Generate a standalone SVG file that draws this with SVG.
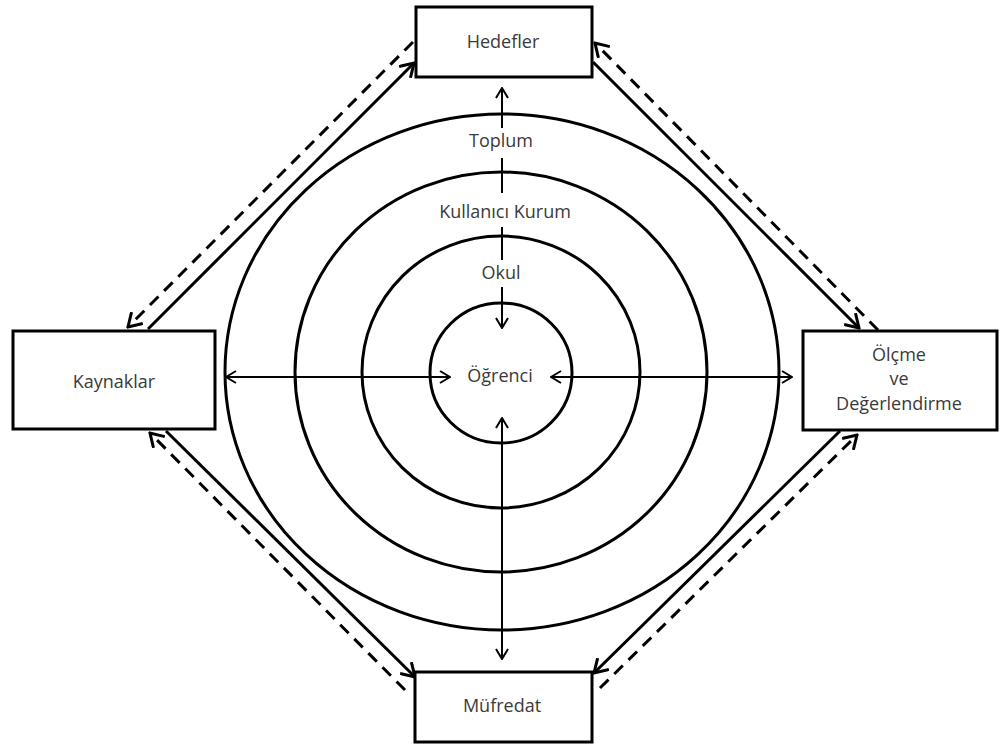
<svg xmlns="http://www.w3.org/2000/svg" width="1001" height="747" viewBox="0 0 1001 747">
<style>
.box{fill:#fff;stroke:#000;stroke-width:3}
.ring{fill:none;stroke:#000;stroke-width:3}
.lbl{font-family:"Open Sans","Noto Sans",sans-serif;font-size:18px;fill:#3a3a3a;text-anchor:middle}
.ax{stroke:#000;stroke-width:2;fill:none}
.sol{stroke:#000;stroke-width:3;fill:none}
.dsh{stroke:#000;stroke-width:3;fill:none;stroke-dasharray:12 8}
.bg{fill:#fff}
</style>
<defs>
<marker id="ah" markerUnits="userSpaceOnUse" viewBox="0 0 12 14" refX="11" refY="7" markerWidth="12" markerHeight="14" orient="auto-start-reverse">
<path d="M1,1 L11,7 L1,13" fill="none" stroke="#000" stroke-width="2"/>
</marker>
<marker id="ahb" markerUnits="userSpaceOnUse" viewBox="0 0 16 18" refX="14" refY="9" markerWidth="16" markerHeight="18" orient="auto">
<path d="M1,1 L14,9 L1,17" fill="none" stroke="#000" stroke-width="3"/>
</marker>
</defs>
<rect width="1001" height="747" fill="#fff"/>
<g id="rings">
<ellipse id="ring-ogrenci" class="ring" cx="501" cy="373" rx="71" ry="70"/>
<ellipse id="ring-okul" class="ring" cx="501" cy="372" rx="139" ry="136"/>
<ellipse id="ring-kurum" class="ring" cx="501" cy="372" rx="206" ry="200"/>
<ellipse id="ring-toplum" class="ring" cx="502" cy="372" rx="277" ry="258"/>
</g>
<g id="connectors">
<line class="ax" x1="502" y1="88" x2="502" y2="328" marker-start="url(#ah)" marker-end="url(#ah)"/>
<line class="ax" x1="502" y1="418" x2="502" y2="659" marker-start="url(#ah)" marker-end="url(#ah)"/>
<line class="ax" x1="226" y1="377" x2="450" y2="377" marker-start="url(#ah)" marker-end="url(#ah)"/>
<line class="ax" x1="551" y1="377" x2="792" y2="377" marker-start="url(#ah)" marker-end="url(#ah)"/>
<line class="sol" x1="148" y1="329" x2="414" y2="63" marker-end="url(#ahb)"/>
<line class="dsh" x1="413" y1="42" x2="128" y2="327" marker-end="url(#ahb)"/>
<line class="sol" x1="593" y1="62" x2="859" y2="328" marker-end="url(#ahb)"/>
<line class="dsh" x1="878" y1="330" x2="595" y2="43" marker-end="url(#ahb)"/>
<line class="sol" x1="840" y1="431" x2="594" y2="673" marker-end="url(#ahb)"/>
<line class="dsh" x1="600" y1="688" x2="857" y2="435" marker-end="url(#ahb)"/>
<line class="sol" x1="166" y1="431" x2="415" y2="677" marker-end="url(#ahb)"/>
<line class="dsh" x1="405" y1="690" x2="150" y2="433" marker-end="url(#ahb)"/>
</g>
<g id="label-toplum">
<rect class="bg" x="460" y="128" width="84" height="30"/>
<text class="lbl" x="501" y="147">Toplum</text>
</g>
<g id="label-kurum">
<rect class="bg" x="432" y="193" width="148" height="34"/>
<text class="lbl" x="505" y="218">Kullanıcı Kurum</text>
</g>
<g id="label-okul">
<rect class="bg" x="474" y="260" width="54" height="27"/>
<text class="lbl" x="501" y="279">Okul</text>
</g>
<g id="node-ogrenci">
<text class="lbl" x="500" y="382">Öğrenci</text>
</g>
<g id="node-hedefler">
<rect class="box" x="416" y="7" width="176" height="70"/>
<text class="lbl" x="503" y="48">Hedefler</text>
</g>
<g id="node-kaynaklar">
<rect class="box" x="13" y="331" width="202" height="98"/>
<text class="lbl" x="114" y="388">Kaynaklar</text>
</g>
<g id="node-olcme">
<rect class="box" x="803" y="331" width="194" height="99"/>
<text class="lbl" x="899" y="361">Ölçme</text>
<text class="lbl" x="899" y="385">ve</text>
<text class="lbl" x="899" y="410">Değerlendirme</text>
</g>
<g id="node-mufredat">
<rect class="box" x="415" y="672" width="177" height="70"/>
<text class="lbl" x="502" y="712">Müfredat</text>
</g>
</svg>
